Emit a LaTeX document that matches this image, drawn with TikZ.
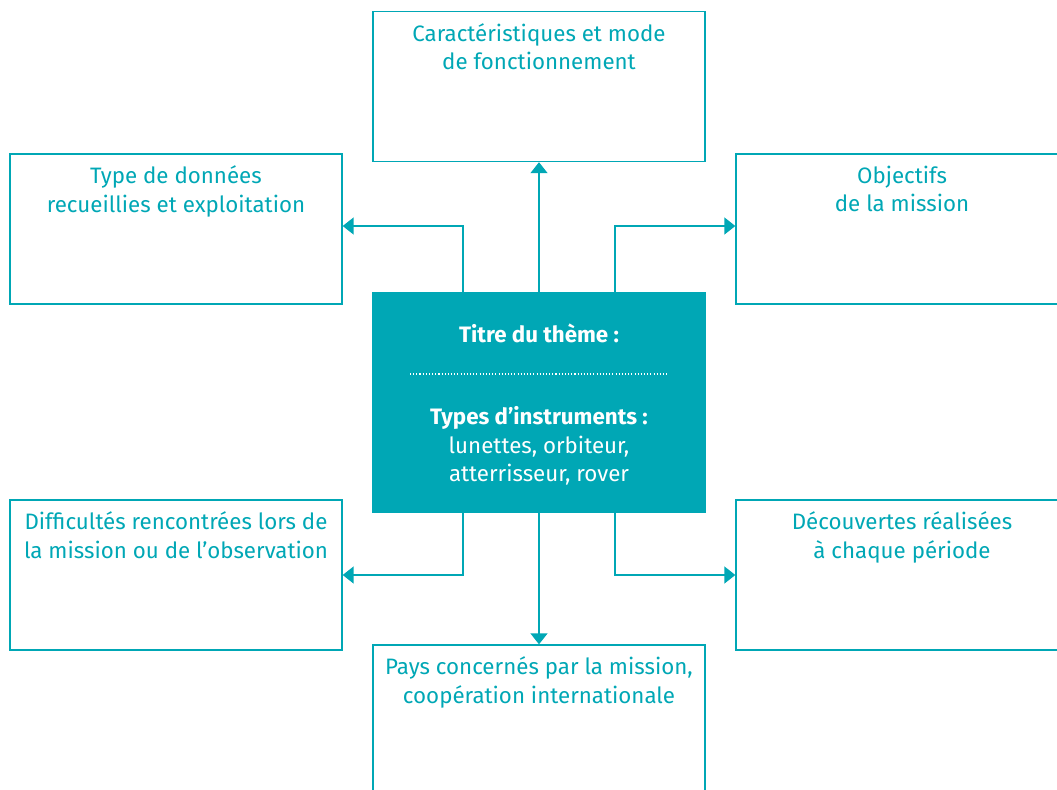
\documentclass[tikz,border=0pt]{standalone}
\usepackage{fontspec}
\setmainfont{Fira Sans}
\usetikzlibrary{positioning,arrows.meta}
\definecolor{lagoon}{HTML}{00A7B5}

\begin{document}
\begin{tikzpicture}[x=0.02cm, y=-0.02cm,
    box/.style={draw=lagoon, line width=0.8pt, minimum width=6.64cm, minimum height=3cm, inner sep=0pt},
    boxtext/.style={text=lagoon, align=center, inner sep=0pt, font=\fontsize{12.7}{16.2}\selectfont},
    centext/.style={text=white, align=center, inner sep=0pt, font=\fontsize{12.7}{16.2}\selectfont},
    link/.style={draw=lagoon, line width=0.8pt, -{Triangle[length=2.2mm,width=3.4mm]}}]
    \useasboundingbox (0,0) rectangle (1057,789);
    \clip (0,0) rectangle (1057,789);

    % Outer boxes
    \foreach \name/\x/\y/\txt in {
        carac/539/86.5/{Caractéristiques et mode\\de fonctionnement},
        donnees/176/229/{Type de données\\recueillies et exploitation},
        objectifs/902/229/{Objectifs\\de la mission},
        difficultes/176/575/{Difficultés rencontrées lors de\\la mission ou de l’observation},
        decouvertes/902/575/{Découvertes réalisées\\à chaque période},
        pays/539/720/{Pays concernés par la mission,\\coopération internationale}} {
        \node[box] (\name) at (\x,\y) {};
        \node[boxtext, below=0.24cm of \name.north] (\name-txt) {\txt};
    }

    % Central theme box
    \node[box, fill=lagoon, minimum height=4.38cm] (theme) at (539,402.5) {};
    \node[centext, font=\fontsize{12.7}{16.2}\selectfont\bfseries] (titre) at (539,333) {Titre du thème :};
    \draw[white, line width=0.6pt, dash pattern=on 0.6pt off 1.2pt] (410,374) -- (668,374);
    \node[centext] (instr) at (539,446) {\textbf{Types d’instruments :}\\lunettes, orbiteur,\\atterrisseur, rover};

    % Arrows
    \draw[link] (theme.north) -- (carac.south);
    \draw[link] ([xshift=-1.52cm]theme.north) |- ([yshift=0.06cm]donnees.east);
    \draw[link] ([xshift=1.52cm]theme.north) |- ([yshift=0.06cm]objectifs.west);
    \draw[link] ([xshift=-1.52cm]theme.south) |- (difficultes.east);
    \draw[link] (theme.south) -- (pays.north);
    \draw[link] ([xshift=1.52cm]theme.south) |- (decouvertes.west);
\end{tikzpicture}
\end{document}
